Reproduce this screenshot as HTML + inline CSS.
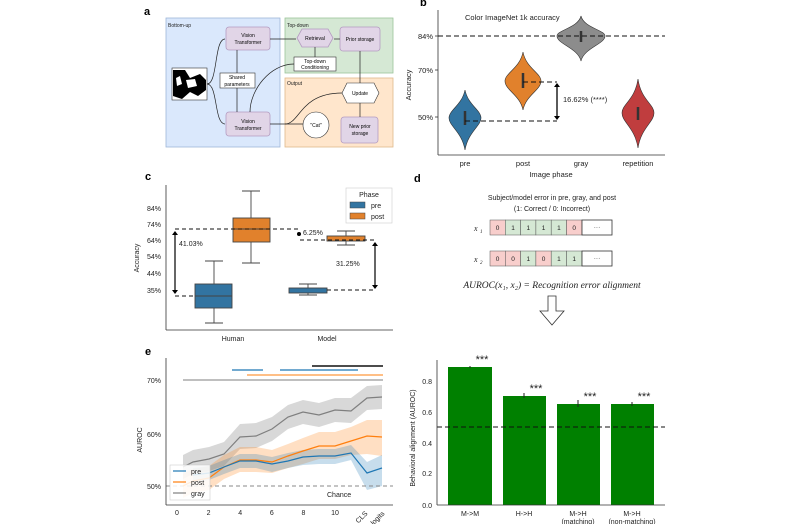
<!DOCTYPE html>
<html><head><meta charset="utf-8"><style>
html,body{margin:0;padding:0;background:#fff;}
svg{display:block;font-family:"Liberation Sans",sans-serif;}
</style></head><body>
<svg width="800" height="524" viewBox="0 0 800 524" xmlns="http://www.w3.org/2000/svg">
<rect width="800" height="524" fill="#fff"/>
<!-- Panel a -->
<text x="144" y="15" font-size="11" font-weight="bold">a</text>
<rect x="166" y="18" width="114" height="129" fill="#dae8fc" stroke="#9fb6d8" stroke-width="0.8"/>
<rect x="285" y="18" width="108" height="55" fill="#d5e8d4" stroke="#9cc49a" stroke-width="0.8"/>
<rect x="285" y="78" width="108" height="69" fill="#ffe6cc" stroke="#e0b98a" stroke-width="0.8"/>
<g font-size="5" fill="#222">
<text x="168" y="27">Bottom-up</text><text x="287" y="27">Top-down</text><text x="287" y="85">Output</text>
</g>
<rect x="226" y="27" width="44" height="23" rx="3" fill="#e1d5e7" stroke="#b49bc1" stroke-width="0.8"/>
<text x="248" y="37" font-size="5" text-anchor="middle">Vision</text><text x="248" y="44" font-size="5" text-anchor="middle">Transformer</text>
<rect x="226" y="112" width="44" height="24" rx="3" fill="#e1d5e7" stroke="#b49bc1" stroke-width="0.8"/>
<text x="248" y="123" font-size="5" text-anchor="middle">Vision</text><text x="248" y="130" font-size="5" text-anchor="middle">Transformer</text>
<polygon points="302,29 328,29 333,38 328,47 302,47 297,38" fill="#e1d5e7" stroke="#b49bc1" stroke-width="0.8"/>
<text x="315" y="40" font-size="5" text-anchor="middle">Retrieval</text>
<rect x="340" y="27" width="40" height="24" rx="3" fill="#e1d5e7" stroke="#b49bc1" stroke-width="0.8"/>
<text x="360" y="41" font-size="5" text-anchor="middle">Prior storage</text>
<rect x="294" y="57" width="42" height="14" fill="#fff" stroke="#333" stroke-width="0.6"/>
<text x="315" y="63" font-size="5" text-anchor="middle">Top-down</text><text x="315" y="69" font-size="5" text-anchor="middle">Conditioning</text>
<rect x="220" y="73" width="35" height="15" fill="#fff" stroke="#333" stroke-width="0.6"/>
<text x="237" y="79" font-size="5" text-anchor="middle">Shared</text><text x="237" y="86" font-size="5" text-anchor="middle">parameters</text>
<rect x="172" y="68" width="35" height="32" fill="#fff" stroke="#333" stroke-width="0.6"/>
<path d="M173,70 L185,70 L190,78 L200,74 L206,80 L206,90 L198,96 L190,92 L182,99 L173,96 Z" fill="#000"/>
<path d="M186,80 L195,79 L197,86 L188,88 Z M176,78 L180,76 L182,84 L177,86Z" fill="#fff"/>
<polygon points="347,83 374,83 379,93 374,103 347,103 342,93" fill="#fff" stroke="#333" stroke-width="0.6"/>
<text x="360" y="95" font-size="5" text-anchor="middle">Update</text>
<circle cx="316" cy="125" r="13" fill="#fff" stroke="#333" stroke-width="0.6"/>
<text x="316" y="127" font-size="5" text-anchor="middle">"Cat"</text>
<rect x="341" y="117" width="37" height="26" rx="3" fill="#e1d5e7" stroke="#b49bc1" stroke-width="0.8"/>
<text x="360" y="128" font-size="5" text-anchor="middle">New prior</text><text x="360" y="135" font-size="5" text-anchor="middle">storage</text>
<g stroke="#222" stroke-width="0.7" fill="none">
<path d="M207,84 C218,84 214,39 225,39"/><path d="M207,84 C218,84 214,124 225,124"/>
<path d="M237,50 V73 M237,88 V112"/>
<path d="M270,39 H296"/><path d="M340,39 H334"/><path d="M315,47 V57"/>
<path d="M294,64 C270,64 250,90 250,112"/>
<path d="M360,51 V83"/><path d="M360,103 V117"/>
<path d="M270,124 H303"/><path d="M285,124 C300,124 300,93 342,93"/>
</g>
<!-- Panel b -->
<text x="420" y="6" font-size="11" font-weight="bold">b</text>
<g stroke="#333" stroke-width="0.8"><line x1="438" y1="10" x2="438" y2="155"/><line x1="438" y1="155" x2="665" y2="155"/>
<line x1="435" y1="36" x2="438" y2="36"/><line x1="435" y1="70" x2="438" y2="70"/><line x1="435" y1="117" x2="438" y2="117"/></g>
<g font-size="7.5" fill="#222" text-anchor="end"><text x="433" y="39">84%</text><text x="433" y="73">70%</text><text x="433" y="120">50%</text></g>
<text x="465" y="20" font-size="7.5" fill="#222">Color ImageNet 1k accuracy</text>
<path d="M465,90 C468,105 481,110 481,118 C481,126 468,132 465,150 C462,132 449,126 449,118 C449,110 462,105 465,90Z" fill="#3274a1" stroke="#333" stroke-width="0.6"/>
<path d="M523,52 C526,68 541,73 541,81 C541,90 526,95 523,110 C520,95 505,90 505,81 C505,73 520,68 523,52Z" fill="#e1812c" stroke="#333" stroke-width="0.6"/>
<path d="M581,16 C584,28 605,30 605,36 C605,44 584,48 581,61 C578,48 557,44 557,36 C557,30 578,28 581,16Z" fill="#8c8c8c" stroke="#333" stroke-width="0.6"/>
<path d="M638,79 C641,100 654,104 654,113 C654,122 641,128 638,148 C635,128 622,122 622,113 C622,104 635,100 638,79Z" fill="#c03d3e" stroke="#333" stroke-width="0.6"/>
<g stroke="#333" stroke-width="2.5"><line x1="465" y1="111" x2="465" y2="125"/><line x1="523" y1="73" x2="523" y2="88"/><line x1="581" y1="31" x2="581" y2="42"/><line x1="638" y1="107" x2="638" y2="120"/></g>
<g stroke="#111" stroke-width="1" stroke-dasharray="5,3"><line x1="438" y1="36" x2="665" y2="36"/><line x1="465" y1="121" x2="557" y2="121"/><line x1="523" y1="82" x2="557" y2="82"/></g>
<line x1="557" y1="86" x2="557" y2="117" stroke="#000" stroke-width="1.3"/>
<polygon points="554,87 560,87 557,83" fill="#000"/><polygon points="554,116 560,116 557,120" fill="#000"/>
<text x="563" y="102" font-size="7.5" fill="#222">16.62% (****)</text>
<g font-size="7.5" fill="#222" text-anchor="middle"><text x="465" y="166">pre</text><text x="523" y="166">post</text><text x="581" y="166">gray</text><text x="638" y="166">repetition</text><text x="551" y="177">Image phase</text></g>
<text transform="translate(411,85) rotate(-90)" font-size="7.5" text-anchor="middle" fill="#222">Accuracy</text>
<!-- Panel c -->
<text x="145" y="180" font-size="11" font-weight="bold">c</text>
<g stroke="#333" stroke-width="0.8"><line x1="166" y1="185" x2="166" y2="330"/><line x1="166" y1="330" x2="393" y2="330"/></g>
<g font-size="7" fill="#222" text-anchor="end"><text x="161" y="211">84%</text><text x="161" y="227">74%</text><text x="161" y="243">64%</text><text x="161" y="259">54%</text><text x="161" y="276">44%</text><text x="161" y="293">35%</text></g>
<text transform="translate(139,258) rotate(-90)" font-size="7" text-anchor="middle" fill="#222">Accuracy</text>
<g stroke="#444" stroke-width="0.9">
<line x1="214" y1="261" x2="214" y2="323"/><line x1="205" y1="261" x2="223" y2="261"/><line x1="205" y1="323" x2="223" y2="323"/>
<line x1="251" y1="191" x2="251" y2="263"/><line x1="242" y1="191" x2="260" y2="191"/><line x1="242" y1="263" x2="260" y2="263"/>
<line x1="308" y1="284" x2="308" y2="295"/><line x1="299" y1="284" x2="317" y2="284"/><line x1="299" y1="295" x2="317" y2="295"/>
<line x1="346" y1="231" x2="346" y2="245"/><line x1="337" y1="231" x2="355" y2="231"/><line x1="337" y1="245" x2="355" y2="245"/>
</g>
<rect x="195" y="284" width="37" height="24" fill="#3274a1" stroke="#444" stroke-width="0.9"/><line x1="195" y1="296" x2="232" y2="296" stroke="#444"/>
<rect x="233" y="218" width="37" height="24" fill="#e1812c" stroke="#444" stroke-width="0.9"/><line x1="233" y1="229" x2="270" y2="229" stroke="#444"/>
<rect x="289" y="288" width="38" height="5" fill="#3274a1" stroke="#444" stroke-width="0.9"/>
<rect x="327" y="236" width="38" height="5" fill="#e1812c" stroke="#444" stroke-width="0.9"/>
<g stroke="#111" stroke-width="1" stroke-dasharray="4,3"><line x1="175" y1="229" x2="298" y2="229"/><line x1="175" y1="296" x2="195" y2="296"/><line x1="300" y1="240" x2="375" y2="240"/><line x1="327" y1="290" x2="375" y2="290"/></g>
<line x1="175" y1="234" x2="175" y2="291" stroke="#000" stroke-width="1.2"/><polygon points="172,235 178,235 175,231" fill="#000"/><polygon points="172,290 178,290 175,294" fill="#000"/>
<line x1="375" y1="245" x2="375" y2="286" stroke="#000" stroke-width="1.2"/><polygon points="372,246 378,246 375,242" fill="#000"/><polygon points="372,285 378,285 375,289" fill="#000"/>
<circle cx="299" cy="234" r="2" fill="#000"/>
<g font-size="7" fill="#222"><text x="179" y="246">41.03%</text><text x="303" y="235">6.25%</text><text x="336" y="266">31.25%</text></g>
<rect x="346" y="188" width="46" height="35" fill="#fff" stroke="#ccc" stroke-width="0.6"/>
<text x="369" y="197" font-size="7" text-anchor="middle" fill="#222">Phase</text>
<rect x="350" y="202" width="15" height="6" fill="#3274a1" stroke="#444" stroke-width="0.5"/><text x="371" y="208" font-size="7" fill="#222">pre</text>
<rect x="350" y="213" width="15" height="6" fill="#e1812c" stroke="#444" stroke-width="0.5"/><text x="371" y="219" font-size="7" fill="#222">post</text>
<g font-size="7" fill="#222" text-anchor="middle"><text x="233" y="341">Human</text><text x="327" y="341">Model</text></g>
<!-- Panel d -->
<text x="414" y="182" font-size="11" font-weight="bold">d</text>
<g font-size="7" fill="#222" text-anchor="middle"><text x="552" y="200">Subject/model error in pre, gray, and post</text><text x="552" y="211">(1: Correct / 0: Incorrect)</text></g>
<g font-family="Liberation Serif,serif" font-style="italic" font-size="8" fill="#222"><text x="474" y="231">x</text><text x="480" y="233" font-size="5">1</text><text x="474" y="262">x</text><text x="480" y="264" font-size="5">2</text></g>
<g stroke="#555" stroke-width="0.5">
<rect x="490" y="220" width="15.3" height="15" fill="#f8cecc"/><rect x="505.3" y="220" width="15.3" height="15" fill="#d5e8d4"/><rect x="520.6" y="220" width="15.3" height="15" fill="#d5e8d4"/><rect x="535.9" y="220" width="15.3" height="15" fill="#d5e8d4"/><rect x="551.2" y="220" width="15.3" height="15" fill="#d5e8d4"/><rect x="566.5" y="220" width="15.5" height="15" fill="#f8cecc"/>
<rect x="582" y="220" width="30" height="15" fill="#fff" stroke="#333" stroke-width="0.8"/>
<rect x="490" y="251" width="15.3" height="15" fill="#f8cecc"/><rect x="505.3" y="251" width="15.3" height="15" fill="#f8cecc"/><rect x="520.6" y="251" width="15.3" height="15" fill="#d5e8d4"/><rect x="535.9" y="251" width="15.3" height="15" fill="#f8cecc"/><rect x="551.2" y="251" width="15.3" height="15" fill="#d5e8d4"/><rect x="566.5" y="251" width="15.5" height="15" fill="#d5e8d4"/>
<rect x="582" y="251" width="30" height="15" fill="#fff" stroke="#333" stroke-width="0.8"/>
</g>
<g font-size="6.5" fill="#222" text-anchor="middle">
<text x="497.6" y="230">0</text><text x="513" y="230">1</text><text x="528.3" y="230">1</text><text x="543.6" y="230">1</text><text x="558.9" y="230">1</text><text x="574.2" y="230">0</text><text x="597" y="229">···</text>
<text x="497.6" y="261">0</text><text x="513" y="261">0</text><text x="528.3" y="261">1</text><text x="543.6" y="261">0</text><text x="558.9" y="261">1</text><text x="574.2" y="261">1</text><text x="597" y="260">···</text>
</g>
<text x="552" y="288" font-family="Liberation Serif,serif" font-style="italic" font-size="9.5" text-anchor="middle" fill="#222">AUROC(x₁, x₂) = Recognition error alignment</text>
<polygon points="548,296 556,296 556,311 564,311 552,325 540,311 548,311" fill="#fff" stroke="#333" stroke-width="0.8"/>
<!-- Panel e -->
<text x="145" y="355" font-size="11" font-weight="bold">e</text>
<polygon points="183,455 193,450 209,447 224,442 240,424 256,423 272,417 288,405 303,400 319,403 335,398 351,398 367,386 382,385 382,409 367,410 351,423 335,422 319,427 303,424 288,429 272,441 256,448 240,449 224,466 209,471 193,474 183,479" fill="#7f7f7f" fill-opacity="0.3"/>
<polygon points="183,474 193,469 209,466 224,455 240,447 256,447 272,450 288,444 303,438 319,432 335,432 351,427 367,420 382,420 382,456 367,454 351,455 335,459 319,459 303,464 288,468 272,473 256,472 240,472 224,479 209,490 193,493 183,498" fill="#ff7f0e" fill-opacity="0.25"/>
<polygon points="193,468 209,466 224,460 240,454 256,454 272,457 288,453 303,450 319,449 335,449 351,445 367,462 382,455 382,486 367,490 351,460 335,464 319,464 303,465 288,468 272,472 256,468 240,468 224,474 209,480 193,482" fill="#1f77b4" fill-opacity="0.25"/>
<line x1="166" y1="486" x2="393" y2="486" stroke="#888" stroke-width="0.9" stroke-dasharray="4,3"/>
<polyline points="183,467 193,462 209,459 224,454 240,437 256,436 272,429 288,417 303,412 319,415 335,410 351,411 367,398 382,397" fill="none" stroke="#7f7f7f" stroke-width="1.2"/>
<polyline points="183,486 193,481 209,478 224,467 240,460 256,460 272,462 288,456 303,451 319,446 335,446 351,441 367,436 382,437" fill="none" stroke="#ff7f0e" stroke-width="1.2"/>
<polyline points="193,475 209,473 224,467 240,461 256,461 272,464 288,461 303,457 319,456 335,456 351,453 367,473 382,468" fill="none" stroke="#1f77b4" stroke-width="1.2"/>
<line x1="183" y1="380" x2="383" y2="380" stroke="#7f7f7f" stroke-width="1"/>
<line x1="247" y1="375" x2="383" y2="375" stroke="#ff7f0e" stroke-width="1"/>
<line x1="232" y1="370" x2="263" y2="370" stroke="#1f77b4" stroke-width="1.2"/><line x1="280" y1="370" x2="358" y2="370" stroke="#1f77b4" stroke-width="1.2"/>
<line x1="312" y1="366" x2="383" y2="366" stroke="#111" stroke-width="1.5"/>
<g stroke="#333" stroke-width="0.8"><line x1="166" y1="358" x2="166" y2="505"/><line x1="166" y1="505" x2="393" y2="505"/></g>
<g font-size="7" fill="#222" text-anchor="end"><text x="161" y="383">70%</text><text x="161" y="437">60%</text><text x="161" y="489">50%</text></g>
<g font-size="7" fill="#222" text-anchor="middle"><text x="177" y="515">0</text><text x="208.6" y="515">2</text><text x="240.2" y="515">4</text><text x="271.8" y="515">6</text><text x="303.4" y="515">8</text><text x="335" y="515">10</text></g>
<text transform="translate(368,514) rotate(-45)" font-size="7" text-anchor="end" fill="#222">CLS</text>
<text transform="translate(385,514) rotate(-45)" font-size="7" text-anchor="end" fill="#222">logits</text>
<text transform="translate(142,440) rotate(-90)" font-size="7" text-anchor="middle" fill="#222">AUROC</text>
<text x="327" y="497" font-size="7" fill="#222">Chance</text>
<rect x="170" y="465" width="40" height="35" fill="#fff" fill-opacity="0.85" stroke="#ccc" stroke-width="0.6"/>
<line x1="173" y1="471" x2="186" y2="471" stroke="#1f77b4" stroke-width="1.2"/><text x="191" y="474" font-size="7" fill="#222">pre</text>
<line x1="173" y1="482" x2="186" y2="482" stroke="#ff7f0e" stroke-width="1.2"/><text x="191" y="485" font-size="7" fill="#222">post</text>
<line x1="173" y1="493" x2="186" y2="493" stroke="#7f7f7f" stroke-width="1.2"/><text x="191" y="496" font-size="7" fill="#222">gray</text>
<!-- Panel f -->
<rect x="448" y="367" width="44" height="138" fill="#008000"/>
<rect x="503" y="396" width="43" height="109" fill="#008000"/>
<rect x="557" y="404" width="43" height="101" fill="#008000"/>
<rect x="611" y="404" width="43" height="101" fill="#008000"/>
<g stroke="#222" stroke-width="1"><line x1="470" y1="366" x2="470" y2="368"/><line x1="524" y1="393" x2="524" y2="398"/><line x1="578" y1="400" x2="578" y2="407"/><line x1="632" y1="402" x2="632" y2="406"/></g>
<line x1="437" y1="427" x2="665" y2="427" stroke="#111" stroke-width="1" stroke-dasharray="5,3"/>
<g stroke="#333" stroke-width="0.8"><line x1="437" y1="360" x2="437" y2="505"/><line x1="437" y1="505" x2="665" y2="505"/></g>
<g font-size="7" fill="#222" text-anchor="end"><text x="432" y="508">0.0</text><text x="432" y="476">0.2</text><text x="432" y="446">0.4</text><text x="432" y="415">0.6</text><text x="432" y="384">0.8</text></g>
<g font-size="11" fill="#222" text-anchor="middle"><text x="482" y="363">***</text><text x="536" y="392">***</text><text x="590" y="400">***</text><text x="644" y="400">***</text></g>
<g font-size="7" fill="#222" text-anchor="middle"><text x="470" y="516">M-&gt;M</text><text x="524" y="516">H-&gt;H</text><text x="578" y="516">M-&gt;H</text><text x="578" y="524">(matching)</text><text x="632" y="516">M-&gt;H</text><text x="632" y="524">(non-matching)</text></g>
<text transform="translate(415,438) rotate(-90)" font-size="7" text-anchor="middle" fill="#222">Behavioral alignment (AUROC)</text>
</svg>
</body></html>
